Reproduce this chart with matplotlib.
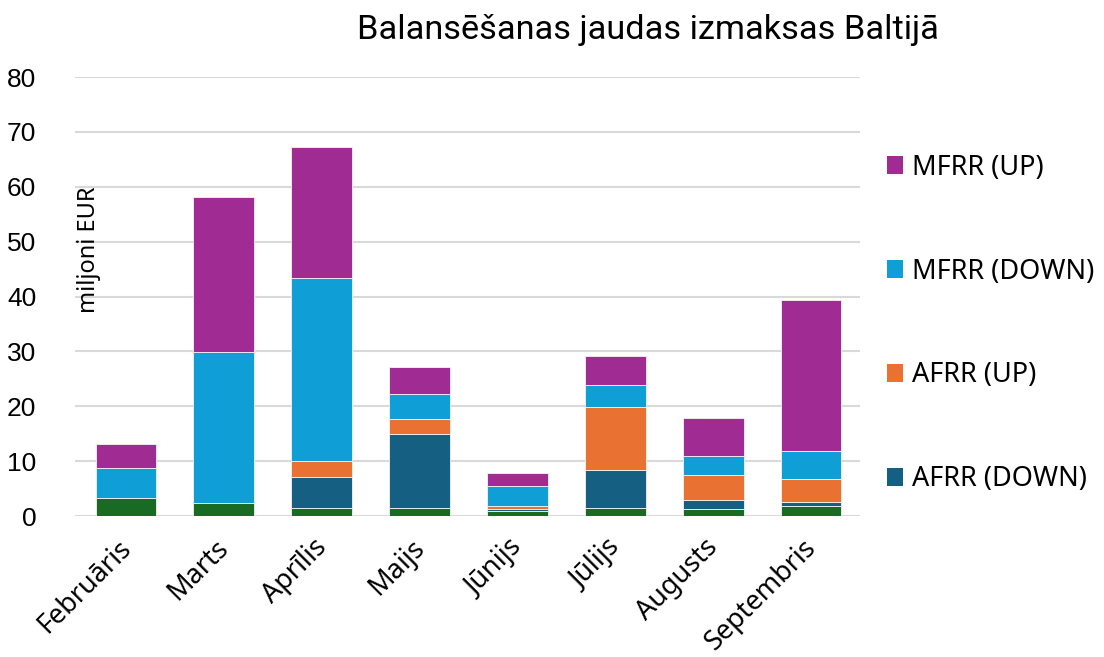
import matplotlib
matplotlib.use("Agg")
import matplotlib.pyplot as plt
import matplotlib.transforms as mtransforms
import numpy as np
from matplotlib.patches import Patch

months = ["Februāris", "Marts", "Aprīlis", "Maijs", "Jūnijs", "Jūlijs", "Augusts", "Septembris"]
fcr = [3.2, 2.3, 1.5, 1.5, 0.9, 1.5, 1.2, 1.8]
afrr_down = [0.0, 0.0, 5.7, 13.5, 0.4, 6.8, 1.8, 0.8]
afrr_up = [0.0, 0.0, 2.8, 2.6, 0.5, 11.6, 4.4, 4.1]
mfrr_down = [5.5, 27.6, 33.4, 4.7, 3.7, 3.9, 3.5, 5.2]
mfrr_up = [4.4, 28.2, 23.8, 4.9, 2.4, 5.3, 6.9, 27.5]

series = [
    ("FCR", fcr, "#196B24"),
    ("AFRR (DOWN)", afrr_down, "#156082"),
    ("AFRR (UP)", afrr_up, "#E97132"),
    ("MFRR (DOWN)", mfrr_down, "#0F9ED5"),
    ("MFRR (UP)", mfrr_up, "#A02B93"),
]

plt.rcParams['font.family'] = ['Noto Sans', 'DejaVu Sans']

fig = plt.figure(figsize=(11.04, 6.57), dpi=100)
ax = fig.add_axes([0.068, 0.2146, 0.711, 0.668])

x = np.arange(len(months))
bottom = np.zeros(len(months))
for name, vals, col in series:
    v = np.array(vals)
    ax.bar(x, v, 0.62, bottom=bottom, color=col, edgecolor="#f4f4f4", linewidth=0.6, zorder=3)
    bottom += v

ax.set_xlim(-0.52, 7.5)
ax.set_ylim(0, 80)
ax.set_yticks(range(0, 81, 10))
ax.yaxis.grid(True, color="#d9d9d9", linewidth=1.5, zorder=0)
ax.set_axisbelow(True)
for s in ax.spines.values():
    s.set_visible(False)
ax.tick_params(axis="both", length=0)
ax.tick_params(axis="y", pad=28)
for lab in ax.get_yticklabels():
    lab.set_fontfamily(['Liberation Sans', 'DejaVu Sans'])
    lab.set_fontsize(19)
ax.set_xticks(x)
ax.set_xticklabels(months, rotation=45, ha="right", rotation_mode="anchor", fontsize=19.5)
ax.tick_params(axis="x", pad=10)
offset = mtransforms.ScaledTranslation(-9 / 100, -4 / 100, fig.dpi_scale_trans)
for lab in ax.get_xticklabels():
    lab.set_transform(lab.get_transform() + offset)

ax.text(0.003, 0.606, "miljoni EUR", transform=ax.transAxes, rotation=90,
        ha="left", va="center", fontsize=17)

fig.text(0.587, 0.955, "Balansēšanas jaudas izmaksas Baltijā", ha="center", va="center",
         fontsize=24.7, family=['Roboto', 'DejaVu Sans'])

handles = [Patch(facecolor=c, edgecolor="none") for _, _, c in series[1:]][::-1]
labels = [n for n, _, _ in series[1:]][::-1]
leg = fig.legend(handles, labels, loc="upper left", bbox_to_anchor=(0.781, 0.803),
                 frameon=False, fontsize=19.5, labelspacing=2.8, handlelength=0.62,
                 handleheight=0.62, handletextpad=0.33)

fig.savefig("out.png", dpi=100)
